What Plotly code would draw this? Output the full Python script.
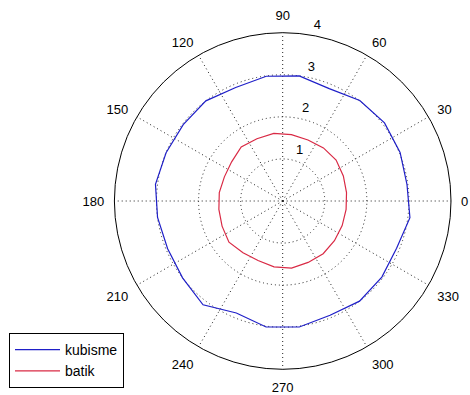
import plotly.graph_objects as go

# angles in degrees (closed loop: first value repeated at end)
theta_deg = [7.5, 22.5, 37.5, 52.5, 67.5, 82.5, 97.5, 112.5, 127.5, 142.5, 157.5, 172.5,
             187.5, 202.5, 217.5, 232.5, 247.5, 262.5, 277.5, 292.5, 307.5, 322.5, 337.5, 352.5, 7.5]

kubisme = [2.98, 3.02, 3.05, 3.01, 2.89, 3.00, 2.99, 2.92, 3.00, 2.98, 3.00, 3.05,
           3.00, 2.96, 3.00, 3.11, 2.88, 3.02, 3.02, 2.94, 3.00, 2.97, 2.93, 3.05, 2.98]

batik = [1.53, 1.56, 1.60, 1.59, 1.57, 1.59, 1.62, 1.60, 1.62, 1.53, 1.50, 1.52,
         1.53, 1.56, 1.61, 1.55, 1.53, 1.58, 1.61, 1.58, 1.58, 1.55, 1.53, 1.52, 1.53]

angle_ticks = [0, 30, 60, 90, 120, 150, 180, 210, 240, 270, 300, 330]
angle_labels = [str(a) for a in angle_ticks]
radial_ticks = [1, 2, 3, 4]
radial_labels = ["1", "2", "3", "4"]
radial_label_angle = 82
r_max = 4
r_label_max = 4.4  # wider overlay scale so the outermost label stays inside range

FONT = "Liberation Sans, Arial, sans-serif"

fig = go.Figure()
fig.add_trace(go.Scatterpolar(r=kubisme, theta=theta_deg, mode="lines", name="kubisme",
                              line=dict(color="#1f1fc8", width=1.2)))
fig.add_trace(go.Scatterpolar(r=batik, theta=theta_deg, mode="lines", name="batik",
                              line=dict(color="#d92a45", width=1.2)))
fig.add_trace(go.Scatterpolar(r=[t + 0.05 for t in radial_ticks],
                              theta=[radial_label_angle] * len(radial_ticks),
                              mode="text", text=["\u00a0\u00a0" + s for s in radial_labels],
                              textposition="top right",
                              textfont=dict(family=FONT, size=13, color="#000"),
                              showlegend=False, hoverinfo="skip", subplot="polar2"))

cx, cy, R = 282.7, 201.0, 168.3
R2 = R * r_label_max / r_max
W, H = 470, 395
GRID = dict(gridcolor="#222", griddash="1px,3px", gridwidth=1)
fig.update_layout(
    width=W, height=H,
    margin=dict(l=0, r=0, t=0, b=0, autoexpand=False),
    paper_bgcolor="white", plot_bgcolor="white",
    font=dict(family=FONT, size=13, color="#000"),
    polar=dict(
        domain=dict(x=[(cx - R) / W, (cx + R) / W], y=[(H - cy - R) / H, (H - cy + R) / H]),
        bgcolor="white",
        radialaxis=dict(range=[0, r_max], tickvals=[1, 2, 3], showticklabels=False, ticks="",
                        showline=False, **GRID),
        angularaxis=dict(direction="counterclockwise", rotation=0, tickmode="array",
                         tickvals=angle_ticks, ticktext=angle_labels,
                         showline=True, linecolor="#000", linewidth=1, **GRID,
                         ticks="outside", ticklen=7, tickcolor="rgba(0,0,0,0)",
                         tickfont=dict(family=FONT, size=13, color="#000")),
    ),
    polar2=dict(
        domain=dict(x=[(cx - R2) / W, (cx + R2) / W], y=[(H - cy - R2) / H, (H - cy + R2) / H]),
        bgcolor="rgba(0,0,0,0)",
        radialaxis=dict(range=[0, r_label_max], visible=False),
        angularaxis=dict(direction="counterclockwise", rotation=0, visible=False),
    ),
    legend=dict(x=9 / W, y=1 - 333 / H, xanchor="left", yanchor="top",
                bgcolor="white", bordercolor="#000", borderwidth=1,
                font=dict(family=FONT, size=14, color="#000"),
                itemwidth=45, tracegroupgap=0),
    showlegend=True,
)
fig.write_html("out.html", config={"displayModeBar": False},
               post_script="document.body.style.margin='0';")
